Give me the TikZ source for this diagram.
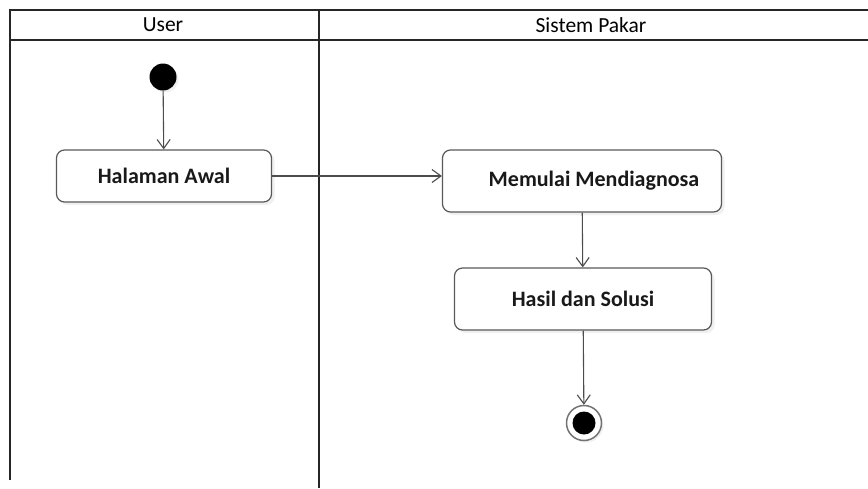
\documentclass[tikz,border=0pt]{standalone}
\usepackage{fontspec}
\setmainfont{Carlito}
\usetikzlibrary{arrows.meta,positioning,calc,shadows}

\tikzset{
  lane/.style={line width=2.2pt, black!85},
  activity/.style={rectangle, draw=black!65, line width=1.2pt, fill=white, rounded corners=8pt,
    drop shadow={opacity=0.12, shadow xshift=3pt, shadow yshift=-3pt},
    font=\bfseries\fontsize{22}{26}\selectfont, text=black!90},
  flow/.style={draw=black!70, line width=1.1pt, -{Straight Barb[length=9pt,width=13pt,line width=1.1pt]}},
}

\begin{document}
\begin{tikzpicture}[x=1pt,y=-1pt]
    \useasboundingbox (0,0) rectangle (868,488);

    % swimlanes
    \draw[lane] (10,480) -- (10,10) -- (868,10);
    \draw[lane] (10,40) -- (868,40);
    \draw[lane] (319,10) -- (319,488);
    \node[font=\fontsize{21.5}{25}\selectfont] (user) at (163,25) {User};
    \node[font=\fontsize{21.5}{25}\selectfont] (pakar) at (591,25) {Sistem Pakar};

    % activities
    \node[circle, fill=black, inner sep=0pt, minimum size=27pt,
      drop shadow={opacity=0.12, shadow xshift=2pt, shadow yshift=-2pt}] (start) at (163,77) {};

    \node[activity, minimum width=215pt, minimum height=52pt] (awal) at (164,176) {Halaman Awal};

    \node[activity, minimum width=279pt, minimum height=62pt] (diagnosa) at (582,181) {\hspace{24pt}Memulai Mendiagnosa};

    \node[activity, minimum width=257pt, minimum height=62pt] (hasil) at (583,299) {Hasil dan Solusi};

    \node[circle, draw=black!55, line width=1.5pt, fill=white, minimum size=35pt, inner sep=0pt,
      drop shadow={opacity=0.12, shadow xshift=2pt, shadow yshift=-2pt}] (end) at (584,423) {};
    \node[circle, fill=black, minimum size=23pt, inner sep=0pt] (endin) at (end.center) {};

    % flows
    \draw[flow] (start) -- (awal);
    \draw[flow] (awal.east) -- (awal.east -| diagnosa.west);
    \draw[flow] (diagnosa) -- (hasil);
    \draw[flow] (hasil) -- (end);
\end{tikzpicture}
\end{document}
